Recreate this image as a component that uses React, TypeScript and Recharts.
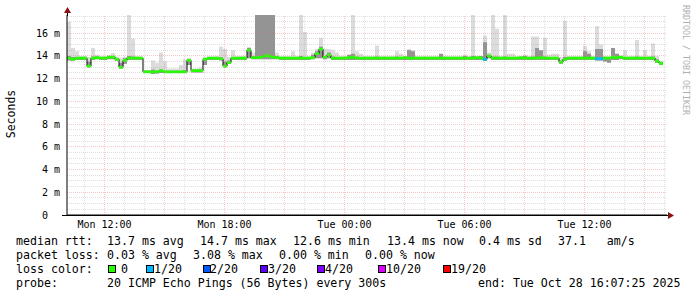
import React from 'react';
import { ComposedChart, Area, XAxis, YAxis, ReferenceLine, ReferenceArea } from 'recharts';

// Time axis (hours since Mon 00:00); one sample every 12 minutes
const START_HOUR = 10.1236; // Mon 10:07:25
const END_HOUR = 40.1236; // Tue 16:07:25
const STEP_HOURS = 0.2;

// median rtt per sample (ms)
const MEDIAN = [
  13.8, 13.7, 13.8, 13.8, 13.8, 13.1, 13.8, 13.85, 13.8, 13.8,
  13.9, 13.9, 13.7, 13.0, 13.6, 13.8, 13.8, 13.8, 13.8, 12.6,
  12.6, 12.6, 12.6, 12.7, 12.6, 12.6, 12.6, 12.6, 12.6, 12.6,
  13.6, 12.7, 12.7, 12.7, 13.7, 13.8, 13.8, 13.8, 13.75, 13.1,
  13.4, 13.8, 13.8, 13.8, 13.8, 14.5, 13.85, 13.85, 13.9, 14.0,
  14.0, 13.9, 13.85, 13.8, 13.8, 13.8, 13.8, 13.8, 13.8, 13.8,
  13.8, 13.85, 14.2, 14.6, 13.9, 14.1, 13.8, 13.8, 13.8, 13.8,
  13.85, 13.9, 13.8, 13.8, 13.8, 13.8, 13.8, 13.8, 13.8, 13.8,
  13.8, 13.8, 13.8, 13.8, 13.85, 13.8, 13.8, 13.8, 13.8, 13.8,
  13.8, 13.8, 13.8, 13.8, 13.8, 13.8, 13.8, 13.8, 13.8, 13.8,
  13.8, 13.8, 13.85, 13.8, 13.7, 14.0, 13.8, 13.8, 13.8, 13.8,
  13.8, 13.8, 13.8, 13.85, 13.8, 13.8, 13.8, 13.8, 13.85, 13.8,
  13.8, 13.8, 13.8, 13.45, 13.7, 13.8, 13.8, 13.8, 13.8, 13.8,
  13.8, 13.8, 13.75, 13.75, 13.8, 13.8, 13.9, 13.85, 13.9, 13.8,
  13.8, 13.8, 13.8, 13.8, 13.8, 13.8, 13.8, 13.55, 13.35, 13.35,
];

// fastest ping per sample (bottom of smoke)
const LOW = [
  13.6, 13.6, 13.65, 13.65, 13.65, 13.0, 13.65, 13.7, 13.65, 13.65,
  13.7, 13.7, 13.6, 12.9, 13.3, 13.65, 13.65, 13.65, 13.65, 12.5,
  12.5, 12.4, 12.45, 12.5, 12.5, 12.5, 12.5, 12.5, 12.5, 12.5,
  13.2, 12.55, 12.55, 12.55, 13.2, 13.65, 13.65, 13.65, 13.6, 13.0,
  13.3, 13.65, 13.65, 13.65, 13.65, 13.8, 13.7, 13.7, 13.7, 13.7,
  13.7, 13.7, 13.7, 13.65, 13.65, 13.65, 13.65, 13.65, 13.65, 13.65,
  13.65, 13.7, 13.8, 13.8, 13.7, 13.8, 13.65, 13.65, 13.65, 13.65,
  13.65, 13.65, 13.65, 13.65, 13.65, 13.65, 13.65, 13.65, 13.65, 13.65,
  13.65, 13.65, 13.65, 13.65, 13.65, 13.65, 13.65, 13.65, 13.65, 13.65,
  13.65, 13.65, 13.65, 13.65, 13.65, 13.65, 13.65, 13.65, 13.65, 13.65,
  13.65, 13.65, 13.65, 13.65, 13.6, 13.8, 13.65, 13.65, 13.65, 13.65,
  13.65, 13.65, 13.65, 13.65, 13.65, 13.65, 13.65, 13.65, 13.65, 13.65,
  13.65, 13.65, 13.65, 13.3, 13.6, 13.65, 13.65, 13.65, 13.65, 13.65,
  13.65, 13.65, 13.6, 13.6, 13.5, 13.4, 13.65, 13.65, 13.7, 13.65,
  13.65, 13.65, 13.65, 13.65, 13.65, 13.65, 13.65, 13.4, 13.2, 13.2,
];

// slowest ping per sample (top of light smoke)
const LIGHT = [
  17.0, 14.7, 14.4, 14.0, 14.0, 13.9, 14.7, 14.1, 14.0, 14.0,
  14.05, 14.25, 13.95, 13.85, 13.9, 17.6, 15.5, 14.0, 13.95, 12.75,
  12.75, 13.6, 13.4, 14.3, 13.5, 12.9, 12.9, 12.9, 13.2, 13.7,
  13.8, 12.9, 12.9, 13.0, 13.9, 13.95, 13.95, 14.0, 14.8, 14.6,
  13.9, 14.5, 14.0, 14.0, 14.0, 14.8, 14.3, 17.6, 17.6, 17.6,
  17.6, 17.6, 14.3, 14.0, 14.0, 14.0, 14.4, 14.0, 17.6, 16.1,
  14.0, 14.3, 14.6, 15.6, 14.6, 14.6, 14.5, 14.3, 14.0, 14.0,
  14.1, 17.6, 14.4, 14.2, 14.0, 14.0, 14.0, 14.9, 14.0, 14.0,
  14.0, 14.0, 14.4, 14.2, 14.0, 14.6, 14.5, 14.0, 14.0, 14.0,
  14.0, 14.0, 14.0, 14.0, 14.0, 14.0, 14.0, 14.0, 14.0, 14.1,
  14.0, 17.6, 14.0, 14.0, 15.8, 14.3, 17.6, 16.4, 14.0, 17.6,
  14.2, 14.2, 14.0, 14.0, 14.1, 14.0, 15.7, 15.7, 14.5, 15.6,
  14.1, 14.2, 14.2, 13.9, 17.1, 14.0, 14.0, 14.0, 14.0, 14.9,
  14.4, 14.0, 16.6, 15.0, 14.0, 14.0, 14.6, 14.2, 14.0, 14.5,
  14.0, 14.0, 15.4, 14.0, 14.5, 14.0, 15.1, 14.0, 13.6, 13.6,
];

// top of the dense (dark) part of the smoke
const DARK = [
  14.0, 13.9, 13.9, 13.9, 13.9, 13.5, 13.95, 13.95, 13.9, 13.9,
  13.95, 14.0, 13.8, 13.4, 13.8, 14.0, 13.95, 13.9, 13.9, 12.7,
  12.7, 12.8, 12.7, 12.8, 12.7, 12.7, 12.7, 12.7, 12.7, 12.75,
  13.7, 12.8, 12.8, 12.8, 13.8, 13.9, 13.9, 13.9, 13.9, 13.5,
  13.6, 13.9, 13.9, 13.9, 13.9, 14.7, 14.0, 17.6, 17.6, 17.6,
  17.6, 17.6, 14.0, 13.9, 13.9, 13.9, 13.9, 13.9, 14.0, 13.9,
  13.9, 14.1, 14.4, 14.8, 14.0, 14.3, 13.95, 13.9, 13.9, 13.9,
  14.1, 14.2, 13.95, 13.9, 13.9, 13.9, 13.9, 13.95, 13.9, 13.9,
  13.9, 13.9, 13.95, 13.9, 13.9, 14.5, 14.4, 13.9, 13.9, 13.9,
  13.9, 13.9, 13.9, 14.2, 13.9, 13.9, 13.9, 13.9, 13.9, 14.0,
  13.9, 14.0, 13.9, 14.0, 15.2, 14.1, 13.95, 13.95, 13.9, 13.95,
  13.9, 13.9, 13.9, 13.9, 14.0, 13.9, 13.95, 14.7, 14.5, 13.95,
  13.9, 13.9, 13.9, 13.6, 13.9, 13.9, 13.9, 13.9, 13.9, 14.4,
  14.2, 13.9, 14.6, 14.6, 13.9, 13.9, 14.7, 14.2, 14.0, 13.9,
  13.9, 13.9, 13.95, 13.9, 13.9, 13.9, 13.95, 13.7, 13.45, 13.45,
];

// samples with packet loss (index into the arrays above) and lost pings
const LOSS_SAMPLES = [104, 132, 133];
const LOSS_COUNTS = [1, 1, 1];

const LOSS_LABELS = ['0', '1/20', '2/20', '3/20', '4/20', '10/20', '19/20'];
const LOSS_THRESHOLDS = [0, 1, 2, 3, 4, 10, 19];
const LOSS_COLORS = ['#26ff00', '#00b8ff', '#0059ff', '#5e00ff', '#7e00ff', '#dd00ff', '#ff0000'];

const X_TICKS = [12, 18, 24, 30, 36];
const X_LABELS = ['Mon 12:00', 'Mon 18:00', 'Tue 00:00', 'Tue 06:00', 'Tue 12:00'];
const Y_TICKS = [0, 2, 4, 6, 8, 10, 12, 14, 16];
const Y_MAX = 17.6;

const MINOR_X: number[] = [];
for (let h = 11; h <= 40; h++) if (h % 3 !== 0) MINOR_X.push(h);
const MAJOR_X: number[] = [];
for (let h = 12; h <= 40; h += 3) MAJOR_X.push(h);
const MINOR_Y: number[] = [];
for (let v = 0.5; v < Y_MAX; v += 0.5) if (v % 2 !== 0) MINOR_Y.push(v);
const MAJOR_Y = [2, 4, 6, 8, 10, 12, 14, 16];

const BAND = 0.12;

const data = MEDIAN.map((m, i) => ({
  t: START_HOUR + i * STEP_HOURS,
  median: m,
  smoke: [LOW[i], LIGHT[i]],
  core: [LOW[i], DARK[i]],
  band: [m - BAND, m + BAND],
}));

const lossColor = (n: number) => {
  let c = LOSS_COLORS[0];
  LOSS_THRESHOLDS.forEach((th, k) => {
    if (n >= th) c = LOSS_COLORS[k];
  });
  return c;
};

const MONO = '"DejaVu Sans Mono", "Liberation Mono", monospace';

const YTick = (props: any) => {
  const { x, y, payload } = props;
  const v = payload.value;
  return (
    <g>
      <text x={x - 19} y={y} dy={3.5} textAnchor="end" fontFamily={MONO} fontSize={10} fill="#000">
        {String(v)}
      </text>
      {v !== 0 && (
        <text x={x - 13} y={y} dy={3.5} fontFamily={MONO} fontSize={10} fill="#000">
          m
        </text>
      )}
    </g>
  );
};

const XTick = (props: any) => {
  const { x, y, payload } = props;
  const idx = X_TICKS.indexOf(payload.value);
  return (
    <text x={x} y={y} dy={12.5} textAnchor="middle" fontFamily={MONO} fontSize={10} fill="#000">
      {X_LABELS[idx]}
    </text>
  );
};

const LEGEND_FONT: React.CSSProperties = {
  position: 'absolute',
  fontFamily: MONO,
  fontSize: 11.6,
  lineHeight: '14px',
  whiteSpace: 'pre',
  color: '#000',
};

const RTT_ITEMS = [
  { text: 'median rtt:', x: 16 },
  { text: '13.7 ms avg', x: 107 },
  { text: '14.7 ms max', x: 200 },
  { text: '12.6 ms min', x: 293 },
  { text: '13.4 ms now', x: 387 },
  { text: '0.4 ms sd', x: 479 },
  { text: '37.1   am/s', x: 558 },
];
const LOSS_ITEMS = [
  { text: 'packet loss:', x: 16 },
  { text: '0.03 % avg', x: 107 },
  { text: '3.08 % max', x: 193 },
  { text: '0.00 % min', x: 279 },
  { text: '0.00 % now', x: 365 },
];
const LOSS_BOX_X = [108, 146, 203, 260, 317, 378, 443];
const LOSS_TEXT_X = [121, 154, 210, 268, 325, 386, 451];

const MINOR_STROKE = 'rgba(150,150,150,0.3)';
const MAJOR_STROKE = 'rgba(225,110,110,0.38)';

export default function App() {
  return (
    <div style={{ position: 'absolute', left: 0, top: 0, width: 697, height: 297, background: '#fff' }}>
      <ComposedChart
        width={697}
        height={297}
        data={data}
        margin={{ top: 15, right: 30, bottom: 0, left: 0 }}
      >
        <XAxis
          type="number"
          dataKey="t"
          domain={[START_HOUR, END_HOUR]}
          allowDataOverflow
          ticks={X_TICKS}
          tick={<XTick />}
          tickLine={false}
          tickSize={0}
          tickMargin={0}
          height={82}
          axisLine={{ stroke: '#000' }}
          interval={0}
        />
        <YAxis
          type="number"
          domain={[0, Y_MAX]}
          allowDataOverflow
          ticks={Y_TICKS}
          tick={<YTick />}
          tickLine={false}
          tickSize={0}
          tickMargin={0}
          width={67}
          axisLine={{ stroke: '#000' }}
          interval={0}
        />
        <Area
          type="stepAfter"
          dataKey={(d: any) => d.smoke}
          fill="#dcdcdc"
          fillOpacity={1}
          stroke="none"
          isAnimationActive={false}
          dot={false}
          activeDot={false}
        />
        <Area
          type="stepAfter"
          dataKey={(d: any) => d.core}
          fill="#949494"
          fillOpacity={1}
          stroke="none"
          isAnimationActive={false}
          dot={false}
          activeDot={false}
        />
        <Area
          type="stepAfter"
          dataKey="median"
          fill="none"
          stroke="#000"
          strokeWidth={1}
          isAnimationActive={false}
          dot={false}
          activeDot={false}
        />
        <Area
          type="stepAfter"
          dataKey={(d: any) => d.band}
          fill={LOSS_COLORS[0]}
          fillOpacity={1}
          stroke="none"
          isAnimationActive={false}
          dot={false}
          activeDot={false}
        />
        {LOSS_SAMPLES.map((i, k) => (
          <ReferenceArea
            key={'loss' + k}
            x1={data[i].t}
            x2={data[i + 1].t}
            y1={MEDIAN[i] - BAND}
            y2={MEDIAN[i] + BAND}
            fill={lossColor(LOSS_COUNTS[k])}
            fillOpacity={1}
            stroke="none"
            ifOverflow="visible"
          />
        ))}
        {MINOR_Y.map((v) => (
          <ReferenceLine key={'my' + v} y={v} stroke={MINOR_STROKE} strokeDasharray="1 1" shapeRendering="crispEdges" />
        ))}
        {MINOR_X.map((v) => (
          <ReferenceLine key={'mx' + v} x={v} stroke={MINOR_STROKE} strokeDasharray="1 1" shapeRendering="crispEdges" />
        ))}
        {MAJOR_Y.map((v) => (
          <ReferenceLine key={'My' + v} y={v} stroke={MAJOR_STROKE} strokeDasharray="1 1" shapeRendering="crispEdges" />
        ))}
        {MAJOR_X.map((v) => (
          <ReferenceLine key={'Mx' + v} x={v} stroke={MAJOR_STROKE} strokeDasharray="1 1" shapeRendering="crispEdges" />
        ))}
      </ComposedChart>

      <svg
        width={697}
        height={297}
        style={{ position: 'absolute', left: 0, top: 0, pointerEvents: 'none' }}
      >
        <line x1={67.5} y1={10} x2={67.5} y2={16} stroke="#000" />
        <line x1={62} y1={215.5} x2={668} y2={215.5} stroke="#000" />
        <polygon points="64,13 71,13 67.5,7" fill="#8b1010" />
        <polygon points="668,212 668,219 674,215.5" fill="#8b1010" />
        <text
          transform="translate(15,114) rotate(-90)"
          textAnchor="middle"
          fontFamily={MONO}
          fontSize={11.5}
          fill="#000"
        >
          Seconds
        </text>
        <text
          transform="translate(683,5) rotate(90)"
          fontFamily={MONO}
          fontSize={8.3}
          fill="#b0b0b0"
        >
          RRDTOOL / TOBI OETIKER
        </text>
      </svg>

      {RTT_ITEMS.map((it, k) => (
        <div key={'r' + k} style={{ ...LEGEND_FONT, left: it.x, top: 234 }}>
          {it.text}
        </div>
      ))}
      {LOSS_ITEMS.map((it, k) => (
        <div key={'p' + k} style={{ ...LEGEND_FONT, left: it.x, top: 248 }}>
          {it.text}
        </div>
      ))}
      <div style={{ ...LEGEND_FONT, left: 16, top: 262 }}>loss color:</div>
      {LOSS_LABELS.map((lab, k) => (
        <React.Fragment key={'lc' + k}>
          <div
            style={{
              position: 'absolute',
              left: LOSS_BOX_X[k],
              top: 265,
              width: 6,
              height: 6,
              border: '1px solid #000',
              background: LOSS_COLORS[k],
            }}
          />
          <div style={{ ...LEGEND_FONT, left: LOSS_TEXT_X[k], top: 262 }}>{lab}</div>
        </React.Fragment>
      ))}
      <div style={{ ...LEGEND_FONT, left: 16, top: 276 }}>probe:</div>
      <div style={{ ...LEGEND_FONT, left: 107, top: 276 }}>20 ICMP Echo Pings (56 Bytes) every 300s</div>
      <div style={{ ...LEGEND_FONT, left: 478, top: 276 }}>end: Tue Oct 28 16:07:25 2025</div>
    </div>
  );
}
